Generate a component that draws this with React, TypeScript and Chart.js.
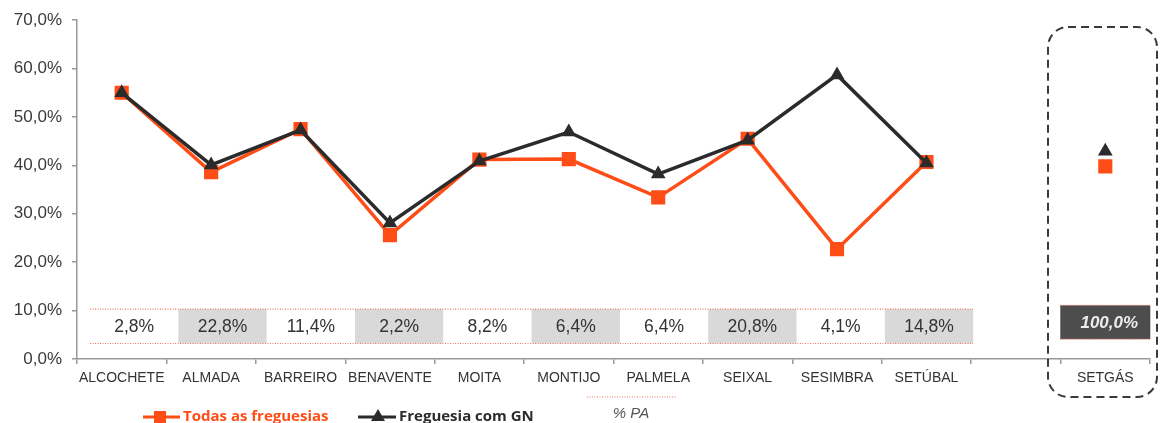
import React, { useEffect, useRef } from "react";
import { Chart, registerables } from "chart.js";

Chart.register(...registerables);

const categories = ["ALCOCHETE", "ALMADA", "BARREIRO", "BENAVENTE", "MOITA", "MONTIJO", "PALMELA", "SEIXAL", "SESIMBRA", "SETÚBAL", "", "SETGÁS"];
const todasFreguesias = [55.0, 38.6, 47.5, 25.6, 41.2, 41.3, 33.4, 45.5, 22.7, 40.7, null, 39.8];
const freguesiaComGN = [55.0, 40.1, 47.3, 28.1, 40.9, 46.9, 38.2, 45.2, 58.7, 40.5, null, 42.9];
const pctPA = [2.8, 22.8, 11.4, 2.2, 8.2, 6.4, 6.4, 20.8, 4.1, 14.8];
const pctPATotal = 100.0;
const yTicks = [0, 10, 20, 30, 40, 50, 60, 70];

const ORANGE = "#FF4D17";
const BLACK = "#2B2B2B";
const FONT = "'Liberation Sans', Arial, sans-serif";

const fmt = (v: number, d = 1) => v.toFixed(d).replace(".", ",") + "%";

const overlayPlugin = {
  id: "overlay",
  afterDraw(chart: any) {
    const ctx = chart.ctx as CanvasRenderingContext2D;
    const x = chart.scales.x;
    const y = chart.scales.y;
    const top = y.getPixelForValue(10.3);
    const bottom = y.getPixelForValue(3.2);
    const left = x.left + 13;
    const right = (x.getPixelForValue(9) + x.getPixelForValue(10)) / 2 + 2;
    const w = (right - left) / pctPA.length;

    ctx.save();
    // table cells
    pctPA.forEach((v, i) => {
      const cx = left + i * w;
      if (i % 2 === 1) {
        ctx.fillStyle = "#D9D9D9";
        ctx.fillRect(cx, top, w, bottom - top);
      }
      ctx.fillStyle = "#333333";
      ctx.font = `17.5px ${FONT}`;
      ctx.textAlign = "center";
      ctx.textBaseline = "middle";
      ctx.fillText(fmt(v), cx + w / 2, (top + bottom) / 2 + 1);
    });
    const dotted = (x1: number, x2: number, yy: number) => {
      ctx.save();
      ctx.strokeStyle = "#EE7A66";
      ctx.lineWidth = 1.2;
      ctx.setLineDash([1, 1.5]);
      ctx.beginPath();
      ctx.moveTo(x1, yy);
      ctx.lineTo(x2, yy);
      ctx.stroke();
      ctx.restore();
    };
    dotted(left, right, top);
    dotted(left, right, bottom);

    // SETGÁS total box
    const sx = x.getPixelForValue(11);
    const bw = 90;
    const btop = y.getPixelForValue(11.1);
    const bbot = y.getPixelForValue(4.1);
    ctx.fillStyle = "#4D4D4D";
    ctx.fillRect(sx - bw / 2, btop, bw, bbot - btop);
    dotted(sx - bw / 2, sx + bw / 2, btop);
    dotted(sx - bw / 2, sx + bw / 2, bbot);
    ctx.font = `italic bold 17px ${FONT}`;
    ctx.textAlign = "center";
    ctx.textBaseline = "middle";
    ctx.fillStyle = "#EDEDED";
    ctx.fillText(fmt(pctPATotal), sx + 4, (btop + bbot) / 2 + 1);

    // dashed rounded box
    ctx.strokeStyle = "#3A3A3A";
    ctx.lineWidth = 2;
    ctx.setLineDash([8, 5]);
    ctx.beginPath();
    (ctx as any).roundRect(1048, 27, 109, 370, 20);
    ctx.stroke();
    ctx.setLineDash([]);

    // legend
    const ly = 417;
    ctx.strokeStyle = ORANGE;
    ctx.lineWidth = 3;
    ctx.beginPath();
    ctx.moveTo(143, ly);
    ctx.lineTo(180, ly);
    ctx.stroke();
    ctx.fillStyle = ORANGE;
    ctx.fillRect(154, ly - 6, 12, 12);
    ctx.font = `bold 15px 'Open Sans', sans-serif`;
    ctx.textAlign = "left";
    ctx.textBaseline = "middle";
    ctx.fillText("Todas as freguesias", 183, ly);

    ctx.strokeStyle = BLACK;
    ctx.beginPath();
    ctx.moveTo(358, ly);
    ctx.lineTo(396, ly);
    ctx.stroke();
    ctx.fillStyle = BLACK;
    ctx.beginPath();
    ctx.moveTo(378, ly - 8);
    ctx.lineTo(385, ly + 4);
    ctx.lineTo(371, ly + 4);
    ctx.closePath();
    ctx.fill();
    ctx.fillText("Freguesia com GN", 399, ly);

    dotted(587, 677, 397);
    ctx.fillStyle = "#555555";
    ctx.font = `italic 15px ${FONT}`;
    ctx.textAlign = "center";
    ctx.fillText("% PA", 631, 414);
    ctx.restore();
  },
};

export default function App() {
  const ref = useRef<HTMLCanvasElement | null>(null);
  useEffect(() => {
    document.body.style.margin = "0";
    const chart = new Chart(ref.current as HTMLCanvasElement, {
      type: "line",
      data: {
        labels: categories,
        datasets: [
          {
            label: "Todas as freguesias",
            data: todasFreguesias,
            borderColor: ORANGE,
            backgroundColor: ORANGE,
            borderWidth: 3.5,
            pointStyle: "rect",
            pointRadius: 10,
            pointBorderWidth: 0,
            tension: 0,
            spanGaps: false,
            order: 2,
          },
          {
            label: "Freguesia com GN",
            data: freguesiaComGN,
            borderColor: BLACK,
            backgroundColor: BLACK,
            borderWidth: 3.5,
            pointStyle: "triangle",
            pointRadius: 8.5,
            pointBorderWidth: 0,
            tension: 0,
            spanGaps: false,
            order: 1,
          },
        ],
      },
      options: {
        animation: false,
        responsive: false,
        maintainAspectRatio: false,
        layout: { padding: { top: 20, right: 4, left: 0, bottom: 0 } },
        plugins: { legend: { display: false }, tooltip: { enabled: false } },
        scales: {
          x: {
            type: "category",
            offset: true,
            afterFit: (s: any) => {
              s.height = 64;
            },
            grid: { offset: true, drawOnChartArea: false, tickLength: 5, color: "#999999", lineWidth: 1.5 },
            border: { color: "#999999", width: 1.5 },
            ticks: {
              color: "#333333",
              font: { family: FONT, size: 14 },
              maxRotation: 0,
              autoSkip: false,
              padding: 6,
            },
          },
          y: {
            min: 0,
            max: 70,
            afterFit: (s: any) => {
              s.width = 77;
            },
            afterBuildTicks: (s: any) => {
              s.ticks = yTicks.map((v) => ({ value: v }));
            },
            grid: { drawOnChartArea: false, tickLength: 5, color: "#999999", lineWidth: 1.5 },
            border: { color: "#999999", width: 1.5 },
            ticks: {
              color: "#3A3A3A",
              font: { family: FONT, size: 17 },
              padding: 10,
              callback: (v: any) => fmt(Number(v)),
            },
          },
        },
      },
      plugins: [overlayPlugin],
    });
    return () => chart.destroy();
  }, []);
  return (
    <div style={{ width: 1160, height: 423 }}>
      <canvas ref={ref} width={1160} height={423} />
    </div>
  );
}
